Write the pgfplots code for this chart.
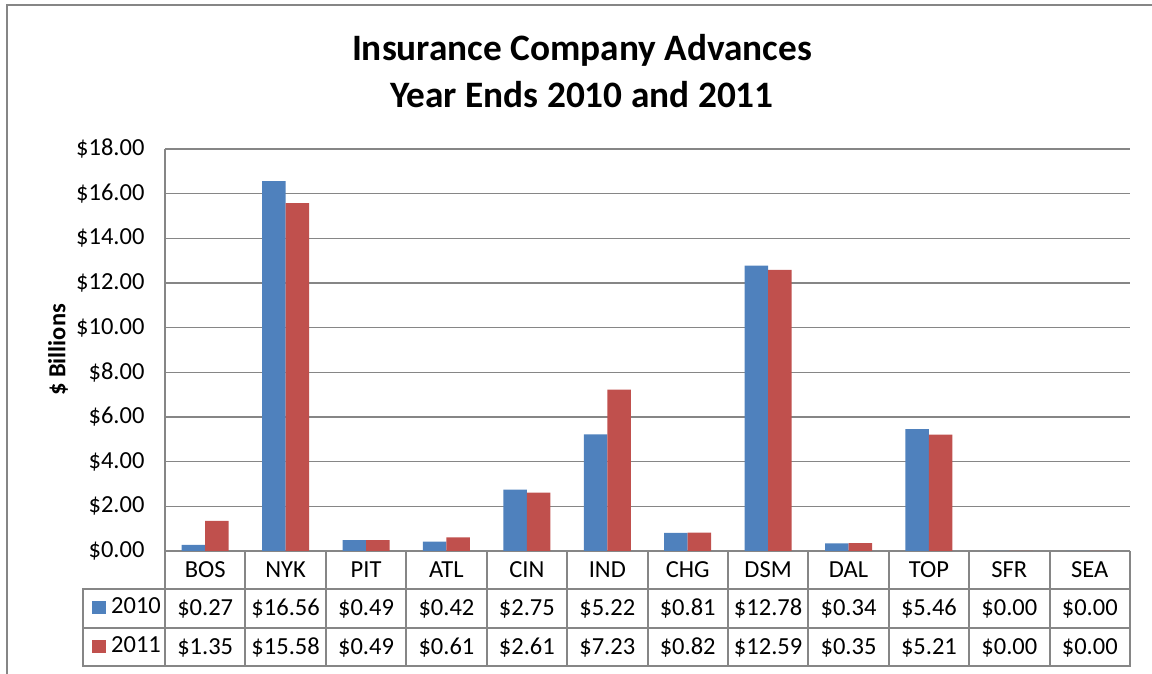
\documentclass[border=0pt]{standalone}
\usepackage{pgfplots}
\pgfplotsset{compat=1.18}
\usepackage{fontspec}
\setmainfont{Carlito}
\definecolor{blu}{HTML}{4F81BD}
\definecolor{rd}{HTML}{C0504D}
\definecolor{gln}{HTML}{868686}
\newcommand{\tfont}{\fontsize{24.5}{28}\selectfont}

\begin{document}
\begin{tikzpicture}[x=1pt,y=1pt]
\useasboundingbox (0,0) rectangle (1152,674);
% outer chart frame (cut off at right and bottom)
\begin{scope}
  \clip (0,0) rectangle (1152,674);
  \draw[gln, line width=2pt] (7,-10) -- (7,669) -- (1170,669);
\end{scope}

\node[font=\fontsize{37.3}{47}\selectfont\bfseries, align=center] at (582,603)
  {Insurance Company Advances\\Year Ends 2010 and 2011};
\node[rotate=90, font=\tfont\bfseries] at (58,324) {\$ Billions};

\begin{axis}[
    at={(165pt,123pt)}, anchor=south west,
    scale only axis, width=965pt, height=402pt,
    xmin=-0.5, xmax=11.5, ymin=0, ymax=18,
    ybar=0pt, bar width=23.5pt,
    axis x line*=bottom, axis y line*=left,
    axis line style={gln, line width=1.5pt},
    xtick=\empty,
    ytick={0,2,...,18},
    yticklabels={\$0.00,\$2.00,\$4.00,\$6.00,\$8.00,\$10.00,\$12.00,\$14.00,\$16.00,\$18.00},
    yticklabel style={font=\tfont, anchor=east, xshift=-17pt},
    major tick length=0pt,
    ymajorgrids, grid style={gln, line width=1.3pt},
    clip=false
]
\addplot[fill=blu, draw=none] coordinates {(0,0.27)(1,16.56)(2,0.49)(3,0.42)(4,2.75)(5,5.22)(6,0.81)(7,12.78)(8,0.34)(9,5.46)(10,0)(11,0)};
\addplot[fill=rd, draw=none] coordinates {(0,1.35)(1,15.58)(2,0.49)(3,0.61)(4,2.61)(5,7.23)(6,0.82)(7,12.59)(8,0.35)(9,5.21)(10,0)(11,0)};
\end{axis}

% data table
\begin{scope}[gln, line width=2pt]
  \foreach \k in {0,...,12}
    \draw ({165+80.4167*\k},123) -- ({165+80.4167*\k},8);
  \draw (83,85) -- (83,8);
  \foreach \y in {85,46,8}
    \draw (82,\y) -- (1131,\y);
\end{scope}
\foreach \c [count=\i from 0] in {BOS,NYK,PIT,ATL,CIN,IND,CHG,DSM,DAL,TOP,SFR,SEA}
  \node[font=\tfont, anchor=base] at ({205.21+80.4167*\i},96) {\c};
\foreach \c [count=\i from 0] in {\$0.27,\$16.56,\$0.49,\$0.42,\$2.75,\$5.22,\$0.81,\$12.78,\$0.34,\$5.46,\$0.00,\$0.00}
  \node[font=\tfont, anchor=base] at ({205.21+80.4167*\i},58) {\c};
\foreach \c [count=\i from 0] in {\$1.35,\$15.58,\$0.49,\$0.61,\$2.61,\$7.23,\$0.82,\$12.59,\$0.35,\$5.21,\$0.00,\$0.00}
  \node[font=\tfont, anchor=base] at ({205.21+80.4167*\i},19) {\c};
\fill[blu] (92,60) rectangle (106,73);
\fill[rd] (92,21) rectangle (106,34);
\node[font=\tfont, anchor=base west, inner sep=0pt] at (111,60) {2010};
\node[font=\tfont, anchor=base west, inner sep=0pt] at (111,21) {2011};
\end{tikzpicture}
\end{document}
